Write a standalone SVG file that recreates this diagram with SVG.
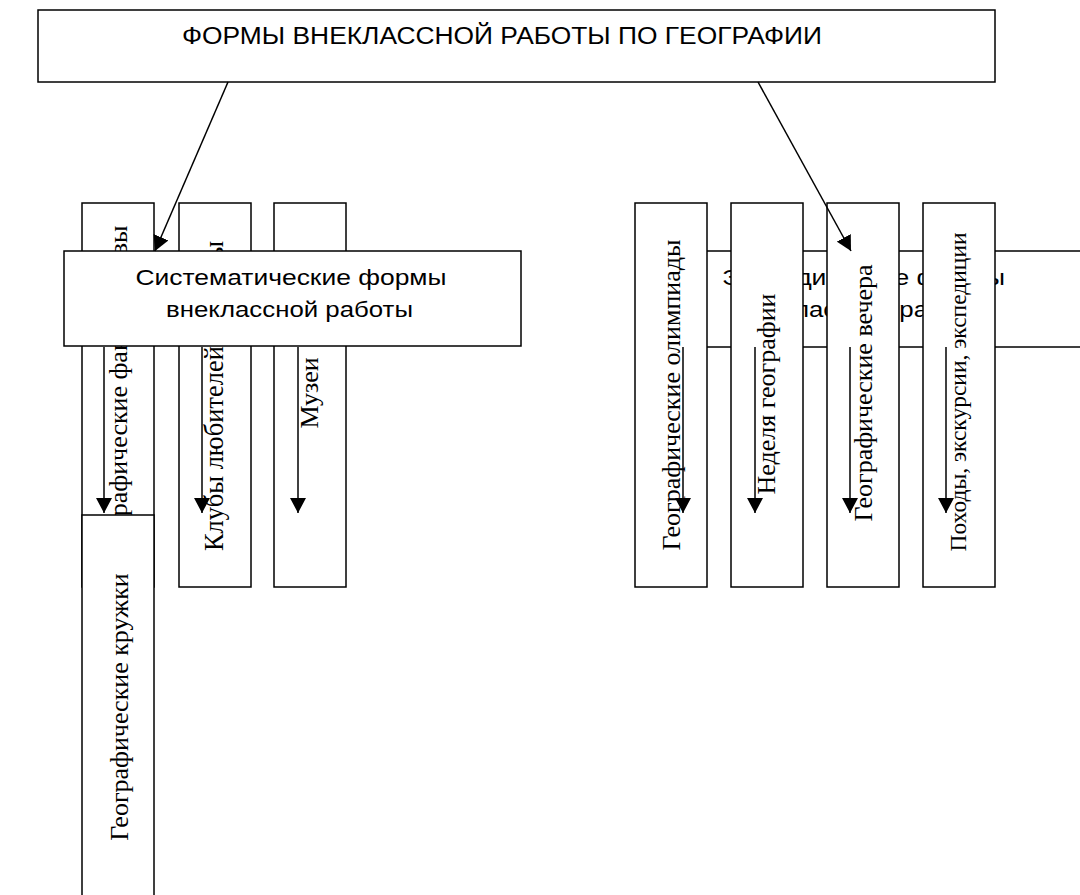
<svg xmlns="http://www.w3.org/2000/svg" width="1080" height="895" viewBox="0 0 1080 895">
<style>
.box{fill:#fff;stroke:#000;stroke-width:1.5}
.h{font-family:"Liberation Sans",Arial,sans-serif;fill:#000;text-anchor:middle}
.v{font-family:"Liberation Serif","Times New Roman",serif;font-size:26px;fill:#000;text-anchor:middle}
.conn{stroke:#000;stroke-width:1.5;fill:none;marker-end:url(#ah)}
</style>
<defs>
<marker id="ah" viewBox="0 0 15 16" refX="15" refY="8" markerWidth="15" markerHeight="16" markerUnits="userSpaceOnUse" orient="auto">
<path d="M0,0 L15,8 L0,16 z" fill="#000"/>
</marker>
</defs>
<rect width="1080" height="895" fill="#fff"/>
<g id="top">
<rect class="box" x="38" y="10" width="957" height="72"/>
<text class="h" x="502" y="44" font-size="23.3" textLength="640" lengthAdjust="spacingAndGlyphs">ФОРМЫ ВНЕКЛАССНОЙ РАБОТЫ ПО ГЕОГРАФИИ</text>
</g>
<g id="episodic">
<rect class="box" x="640" y="251" width="460" height="96"/>
<text class="h" x="863.5" y="285" font-size="22" textLength="283" lengthAdjust="spacingAndGlyphs">Эпизодические формы</text>
<text class="h" x="863.5" y="317" font-size="22" textLength="247" lengthAdjust="spacingAndGlyphs">внеклассной работы</text>
</g>
<g id="fakultativy">
<rect class="box" x="82" y="203" width="72" height="384"/>
<text class="v" transform="translate(127,395) rotate(-90)">Географические факультативы</text>
</g>
<g id="kluby">
<rect class="box" x="179" y="203" width="72" height="384"/>
<text class="v" font-size="26.5" style="font-size:26.5px" transform="translate(223,396) rotate(-90)">Клубы любителей природы</text>
</g>
<g id="muzei">
<rect class="box" x="274" y="203" width="72" height="384"/>
<text class="v" transform="translate(318,393) rotate(-90)">Музеи</text>
</g>
<g id="kruzhki">
<rect class="box" x="82" y="515" width="72" height="385"/>
<text class="v" transform="translate(128,707) rotate(-90)">Географические кружки</text>
</g>
<g id="systematic">
<rect class="box" x="64" y="251" width="457" height="95"/>
<text class="h" x="291" y="285" font-size="22" textLength="311" lengthAdjust="spacingAndGlyphs">Систематические формы</text>
<text class="h" x="289.5" y="317" font-size="22" textLength="247" lengthAdjust="spacingAndGlyphs">внеклассной работы</text>
</g>
<g id="olimpiady">
<rect class="box" x="635" y="203" width="72" height="384"/>
<text class="v" transform="translate(680,395) rotate(-90)">Географические олимпиады</text>
</g>
<g id="nedelya">
<rect class="box" x="731" y="203" width="72" height="384"/>
<text class="v" transform="translate(775,394) rotate(-90)">Неделя географии</text>
</g>
<g id="vechera">
<rect class="box" x="827" y="203" width="72" height="384"/>
<text class="v" transform="translate(872,393) rotate(-90)">Географические вечера</text>
</g>
<g id="pokhody">
<rect class="box" x="923" y="203" width="72" height="384"/>
<text class="v" font-size="23.5" style="font-size:23.5px" transform="translate(966,392) rotate(-90)">Походы, экскурсии, экспедиции</text>
</g>
<g id="connectors">
<line class="conn" x1="228" y1="82" x2="155" y2="251"/>
<line class="conn" x1="758" y1="82" x2="851" y2="251"/>
<line class="conn" x1="104" y1="347" x2="104" y2="513"/>
<line class="conn" x1="202" y1="347" x2="202" y2="513"/>
<line class="conn" x1="298" y1="347" x2="298" y2="513"/>
<line class="conn" x1="683" y1="347" x2="683" y2="513"/>
<line class="conn" x1="755" y1="347" x2="755" y2="513"/>
<line class="conn" x1="850" y1="347" x2="850" y2="513"/>
<line class="conn" x1="946" y1="347" x2="946" y2="513"/>
</g>
</svg>
